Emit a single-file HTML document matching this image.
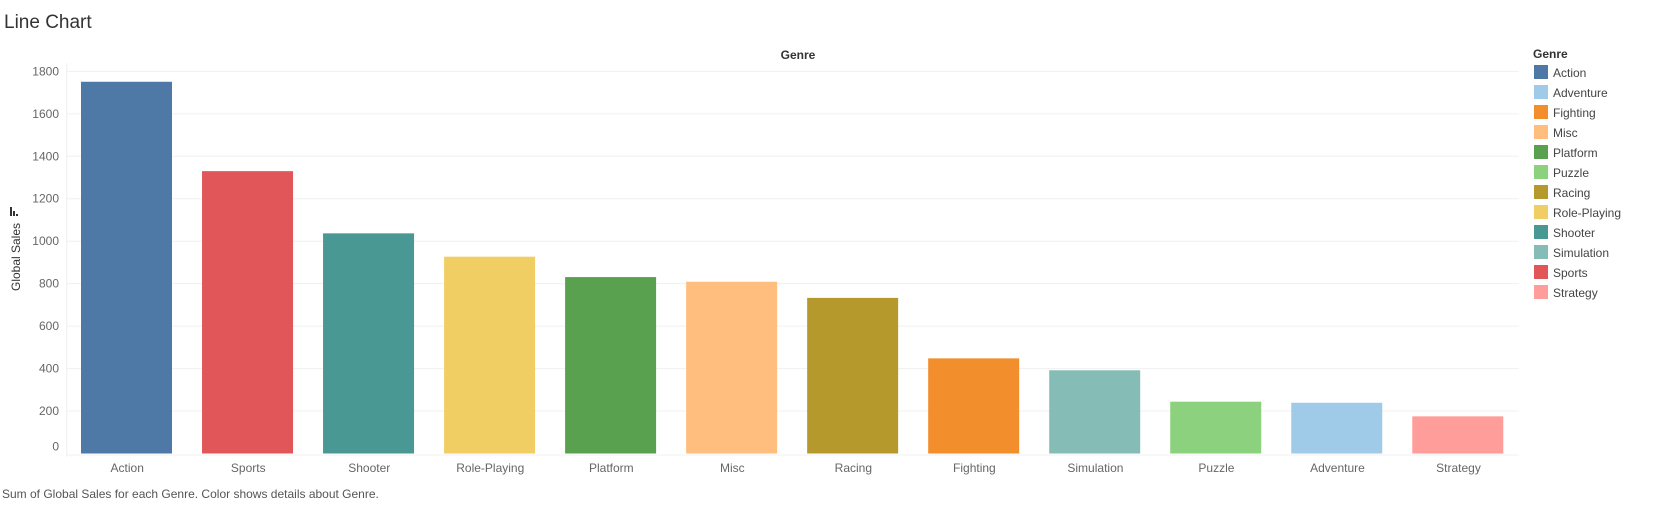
<!DOCTYPE html>
<html><head><meta charset="utf-8"><style>
body{margin:0;background:#fff;width:1671px;height:500px;overflow:hidden;font-family:"Liberation Sans",sans-serif}
</style></head><body>
<svg id="c" width="1671" height="500" xmlns="http://www.w3.org/2000/svg">
<text x="4" y="28" font-size="19" fill="#333">Line Chart</text>
<text x="798" y="59" font-size="12" font-weight="bold" fill="#333" text-anchor="middle">Genre</text>
<text transform="translate(20,257) rotate(-90)" font-size="12" fill="#333" text-anchor="middle">Global Sales</text>
<g fill="#333"><rect x="10" y="207" width="2" height="9"/><rect x="13" y="211" width="2" height="5"/><rect x="16" y="214" width="2" height="2"/></g>
<g id="grid"></g><g id="bars"></g><g id="xl"></g><g id="legend"></g>
<text x="2" y="498" font-size="12" fill="#555">Sum of Global Sales for each Genre.  Color shows details about Genre.</text>
</svg>
<script>
const categories=["Action","Sports","Shooter","Role-Playing","Platform","Misc","Racing","Fighting","Simulation","Puzzle","Adventure","Strategy"];
const sales=[1751,1330,1037,927,831,809,733,448,392,244,239,175];
const yTicks=[0,200,400,600,800,1000,1200,1400,1600,1800];
const legendNames=["Action","Adventure","Fighting","Misc","Platform","Puzzle","Racing","Role-Playing","Shooter","Simulation","Sports","Strategy"];
const colorMap={"Action":"#4e79a7","Adventure":"#a0cbe8","Fighting":"#f28e2b","Misc":"#ffbe7d","Platform":"#59a14f","Puzzle":"#8cd17d","Racing":"#b6992d","Role-Playing":"#f1ce63","Shooter":"#499894","Simulation":"#86bcb6","Sports":"#e15759","Strategy":"#ff9d9a"};
const NS="http://www.w3.org/2000/svg";
const L=66.7,R=1519,B=453.5,K=0.2123,band=(R-L)/categories.length;
const y=v=>B-v*K, x=i=>L+i*band;
function mk(t,a,p,txt){const e=document.createElementNS(NS,t);for(const k in a)e.setAttribute(k,a[k]);if(txt!=null)e.textContent=txt;p.appendChild(e);return e;}
const g=document.getElementById('grid');
yTicks.forEach(t=>{
 if(t>0){const l=mk('line',{x1:L,x2:R,y1:y(t),y2:y(t),stroke:'#f0f0f0','stroke-width':1},g);
 
 }
 const tx=mk('text',{x:59,y:t===0?y(t)-3:y(t)+4,'font-size':12,fill:'#666','text-anchor':'end'},g,t);
 
 
});
const ax=mk('line',{x1:L,x2:L,y1:63,y2:457,stroke:'#f0f0f0'},g);


const bx=mk('line',{x1:L,x2:R,y1:455,y2:455,stroke:'#f0f0f0'},g);


const bars=document.getElementById('bars'),xl=document.getElementById('xl');
categories.forEach((c,i)=>{
 const r=mk('rect',{x:x(i)+14.3,y:y(sales[i]),width:91,height:sales[i]*K,fill:colorMap[c]},bars);
 
 
 const t=mk('text',{x:x(i)+band/2,y:472,'font-size':12,fill:'#666','text-anchor':'middle'},xl,c);
 
 
});
const lg=document.getElementById('legend');
const lt=mk('text',{x:1533,y:58,'font-size':12,'font-weight':'bold',fill:'#333'},lg,'Genre');


legendNames.forEach((n,i)=>{
 const gg=mk('g',{},lg);
 
 
 mk('rect',{x:1534,y:65+i*20,width:14,height:14,fill:colorMap[n]},gg);
 mk('text',{x:1553,y:77+i*20,'font-size':12,fill:'#444'},gg,n);
});
</script>
</body></html>
